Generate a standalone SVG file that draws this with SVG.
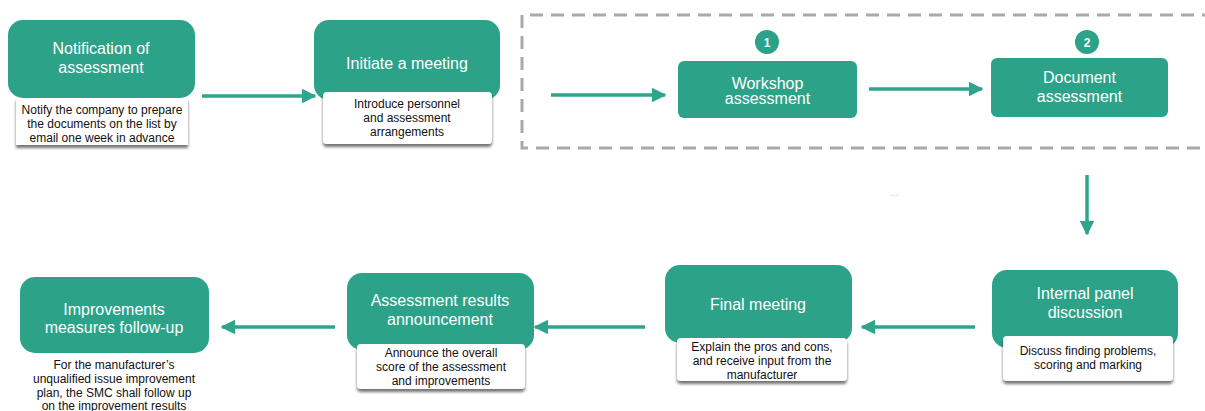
<svg xmlns="http://www.w3.org/2000/svg" width="1205" height="411" viewBox="0 0 1205 411">
  <defs>
    <style>
      .box { fill: #2ca389; }
      .card { fill: #ffffff; filter: url(#cardShadow); }
      .title { font-family: "Liberation Sans", Arial, sans-serif; font-size: 16px; fill: #ffffff; text-anchor: middle; }
      .note { font-family: "Liberation Sans", Arial, sans-serif; font-size: 12px; fill: #111111; text-anchor: middle; }
      .badge { fill: #2ca389; }
      .badge-num { font-family: "Liberation Sans", Arial, sans-serif; font-size: 12px; font-weight: bold; fill: #ffffff; text-anchor: middle; }
      .flow { stroke: #2ea58b; stroke-width: 3.5; fill: none; marker-end: url(#head); }
      .frame { fill: none; stroke: #a9a9a9; stroke-width: 3; stroke-dasharray: 13 8; }
    </style>
    <marker id="head" viewBox="0 0 10 10" refX="9" refY="5" markerWidth="4.2" markerHeight="4.2" markerUnits="strokeWidth" orient="auto">
      <path d="M0,0 L10,5 L0,10 Z" fill="#2ea58b"/>
    </marker>
    <filter id="cardShadow" x="-10%" y="-10%" width="120%" height="130%">
      <feGaussianBlur in="SourceAlpha" stdDeviation="1.6"/>
      <feOffset dx="0" dy="3" result="blur"/>
      <feComponentTransfer><feFuncA type="linear" slope="0.55"/></feComponentTransfer>
      <feMerge><feMergeNode/><feMergeNode in="SourceGraphic"/></feMerge>
    </filter>
  </defs>

  <rect width="1205" height="411" fill="#ffffff"/>

  <!-- dashed frame around the on-site assessment steps -->
  <path class="frame" d="M1215,15 L522,15 L522,148 L1215,148"/>
  <text x="894" y="196" font-family="Liberation Sans, Arial, sans-serif" font-size="10" fill="#c8c8c8" text-anchor="middle">...</text>

  <!-- connectors -->
  <g id="connectors">
    <line class="flow" x1="202" y1="96" x2="315" y2="96"/>
    <line class="flow" x1="551" y1="95" x2="665" y2="95"/>
    <line class="flow" x1="869" y1="89" x2="982" y2="89"/>
    <line class="flow" x1="1087" y1="175" x2="1087" y2="234"/>
    <line class="flow" x1="975" y1="327" x2="862" y2="327"/>
    <line class="flow" x1="645" y1="327" x2="535" y2="327"/>
    <line class="flow" x1="335" y1="327" x2="222" y2="327"/>
  </g>

  <!-- step: notification -->
  <g id="notification">
    <rect class="box" x="8" y="20" width="187" height="78" rx="15"/>
    <text class="title" x="101" y="54">Notification of</text>
    <text class="title" x="101" y="73">assessment</text>
    <rect class="card" x="16" y="98" width="172" height="47"/>
    <text class="note" x="102" y="114">Notify the company to prepare</text>
    <text class="note" x="102" y="128">the documents on the list by</text>
    <text class="note" x="102" y="142">email one week in advance</text>
  </g>

  <!-- step: opening meeting -->
  <g id="initiate-meeting">
    <rect class="box" x="314" y="20" width="186" height="80" rx="15"/>
    <text class="title" x="407" y="69">Initiate a meeting</text>
    <rect class="card" x="323" y="92" width="169" height="52" rx="4"/>
    <text class="note" x="407" y="108">Introduce personnel</text>
    <text class="note" x="407" y="122">and assessment</text>
    <text class="note" x="407" y="136">arrangements</text>
  </g>

  <!-- step 1: workshop -->
  <g id="workshop-assessment">
    <circle class="badge" cx="767" cy="42" r="12"/>
    <text class="badge-num" x="767" y="46.5">1</text>
    <rect class="box" x="678" y="61" width="179" height="57" rx="6"/>
    <text class="title" x="767.5" y="89">Workshop</text>
    <text class="title" x="767.5" y="104">assessment</text>
  </g>

  <!-- step 2: documents -->
  <g id="document-assessment">
    <circle class="badge" cx="1087" cy="42" r="12"/>
    <text class="badge-num" x="1087" y="46.5">2</text>
    <rect class="box" x="991" y="58" width="177" height="59" rx="6"/>
    <text class="title" x="1079.5" y="83">Document</text>
    <text class="title" x="1079.5" y="102">assessment</text>
  </g>

  <!-- step: internal panel -->
  <g id="internal-panel">
    <rect class="box" x="992" y="270" width="186" height="78" rx="15"/>
    <text class="title" x="1085" y="299">Internal panel</text>
    <text class="title" x="1085" y="318">discussion</text>
    <rect class="card" x="1003" y="336" width="170" height="45" rx="4"/>
    <text class="note" x="1088" y="355">Discuss finding problems,</text>
    <text class="note" x="1088" y="369">scoring and marking</text>
  </g>

  <!-- step: closing meeting -->
  <g id="final-meeting">
    <rect class="box" x="665" y="265" width="187" height="78" rx="15"/>
    <text class="title" x="758" y="310">Final meeting</text>
    <rect class="card" x="677" y="338" width="170" height="43" rx="4"/>
    <text class="note" x="762" y="351">Explain the pros and cons,</text>
    <text class="note" x="762" y="365">and receive input from the</text>
    <text class="note" x="762" y="379">manufacturer</text>
  </g>

  <!-- step: results -->
  <g id="results-announcement">
    <rect class="box" x="347" y="273" width="187" height="77" rx="15"/>
    <text class="title" x="440" y="306">Assessment results</text>
    <text class="title" x="440" y="325">announcement</text>
    <rect class="card" x="357" y="344" width="168" height="45" rx="4"/>
    <text class="note" x="441" y="357">Announce the overall</text>
    <text class="note" x="441" y="371">score of the assessment</text>
    <text class="note" x="441" y="385">and improvements</text>
  </g>

  <!-- step: follow-up -->
  <g id="improvement-follow-up">
    <rect class="box" x="20" y="277" width="189" height="76" rx="15"/>
    <text class="title" x="114" y="315">Improvements</text>
    <text class="title" x="114" y="333">measures follow-up</text>
    <text class="note" x="114" y="369">For the manufacturer’s</text>
    <text class="note" x="114" y="383">unqualified issue improvement</text>
    <text class="note" x="114" y="397">plan, the SMC shall follow up</text>
    <text class="note" x="114" y="410">on the improvement results</text>
  </g>
</svg>
